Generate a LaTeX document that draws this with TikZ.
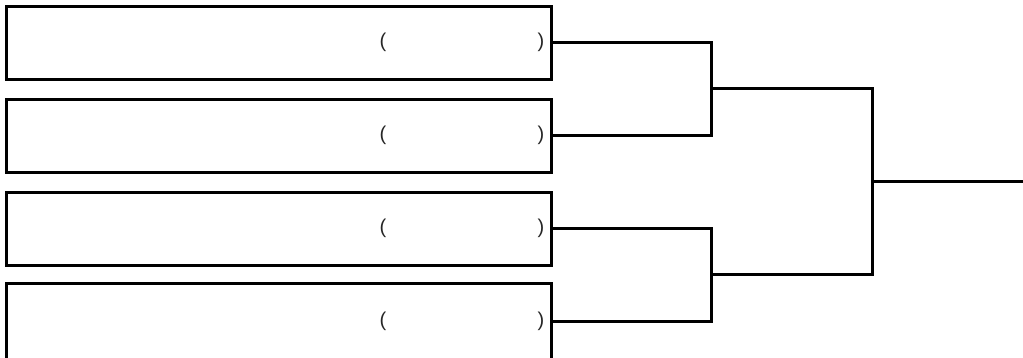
\documentclass[tikz,border=0pt]{standalone}
\usepackage{fontspec}
\setmainfont{Liberation Sans}
\usetikzlibrary{positioning}

\tikzset{
  entry/.style={draw,line width=3pt,minimum width=545pt,minimum height=73pt,inner sep=0pt,outer sep=0pt},
  paren/.style={inner sep=0pt,font=\fontsize{20}{24}\selectfont,text=black!85},
  bracket/.style={line width=3pt}
}

\begin{document}
\begin{tikzpicture}[x=1pt,y=-1pt]
  \useasboundingbox (0,0) rectangle (1023,357);
  % the four entries
  \node[entry] (b1) at (279,42.5) {};
  \node[entry] (b2) at (279,135.5) {};
  \node[entry] (b3) at (279,228.5) {};
  \node[entry,minimum height=76pt] (b4) at (279,321.5) {};
  \foreach \i in {1,2,3,4}{
    \node[paren] (l\i) at ([xshift=-168.5pt]b\i.east) {(};
    \node[paren] (r\i) at ([xshift=-10.5pt]b\i.east) {)};
  }
  % meeting points
  \coordinate (m1) at (711,88.5);
  \coordinate (m2) at (711,274.5);
  \coordinate (f) at (872,181.5);
  \coordinate (out) at (1023,181.5);
  \draw[bracket] (b1.east) -| (m1) |- (b2.east);
  \draw[bracket] (b3.east) -| (m2) |- (b4.east);
  \draw[bracket] (m1) -| (f) |- (m2);
  \draw[bracket] (f) -- (out);
\end{tikzpicture}
\end{document}
